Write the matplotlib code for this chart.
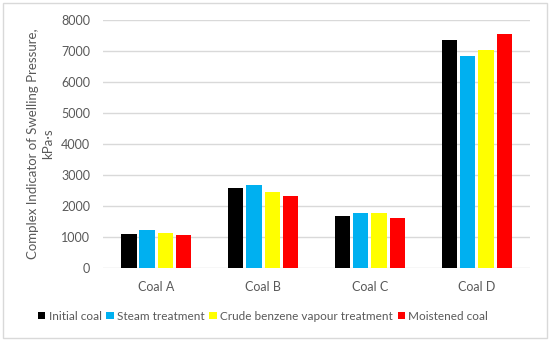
import matplotlib.pyplot as plt
from matplotlib.patches import Rectangle
import numpy as np

plt.rcParams['font.family'] = ['Lato', 'DejaVu Sans']

# data
categories = ['Coal A', 'Coal B', 'Coal C', 'Coal D']
series_names = ['Initial coal', 'Steam treatment',
                'Crude benzene vapour treatment', 'Moistened coal']
initial_coal = [1110, 2570, 1690, 7370]
steam_treatment = [1220, 2670, 1760, 6850]
crude_benzene = [1130, 2460, 1790, 7030]
moistened_coal = [1060, 2320, 1600, 7550]
colors = ['#000000', '#00b0f0', '#ffff00', '#ff0000']

text_col = '#595959'
grid_col = '#d9d9d9'

fig = plt.figure(figsize=(5.5, 3.41), dpi=100)
ax = fig.add_axes([0.187, 0.214, 0.777, 0.727])

# frame round the whole chart
fig.patches.append(Rectangle((3 / 550, 3 / 341), 544 / 550, 335 / 341,
                             transform=fig.transFigure, fill=False,
                             edgecolor=grid_col, linewidth=1))

x = np.arange(len(categories))
step = 0.171
width = 0.143
all_series = [initial_coal, steam_treatment, crude_benzene, moistened_coal]
for i, (vals, name, c) in enumerate(zip(all_series, series_names, colors)):
    ax.bar(x + (i - 1.5) * step, vals, width, color=c, label=name, zorder=3)

ax.set_xlim(-0.5, 3.5)
ax.set_ylim(0, 8000)
ax.set_yticks(range(0, 8001, 1000))
ax.set_xticks(x)
ax.set_xticklabels(categories)
ax.yaxis.grid(True, color=grid_col, linewidth=1, zorder=0)
for s in ['top', 'right', 'left', 'bottom']:
    ax.spines[s].set_visible(False)
ax.tick_params(axis='both', length=0, colors=text_col, labelsize=9)
ax.tick_params(axis='y', pad=9)
ax.tick_params(axis='x', pad=9)

ax.set_ylabel('Complex Indicator of Swelling Pressure,\nkPa·s',
              color=text_col, fontsize=9.5, linespacing=1.3)
ax.yaxis.set_label_coords(-0.115, 0.5)

ax.legend(loc='lower center', bbox_to_anchor=(0.375, -0.26), ncol=4, frameon=False,
          fontsize=8.5, handlelength=0.6, handleheight=0.6, handletextpad=0.3,
          columnspacing=0.4, labelcolor=text_col)

fig.savefig('out.png', dpi=100)
